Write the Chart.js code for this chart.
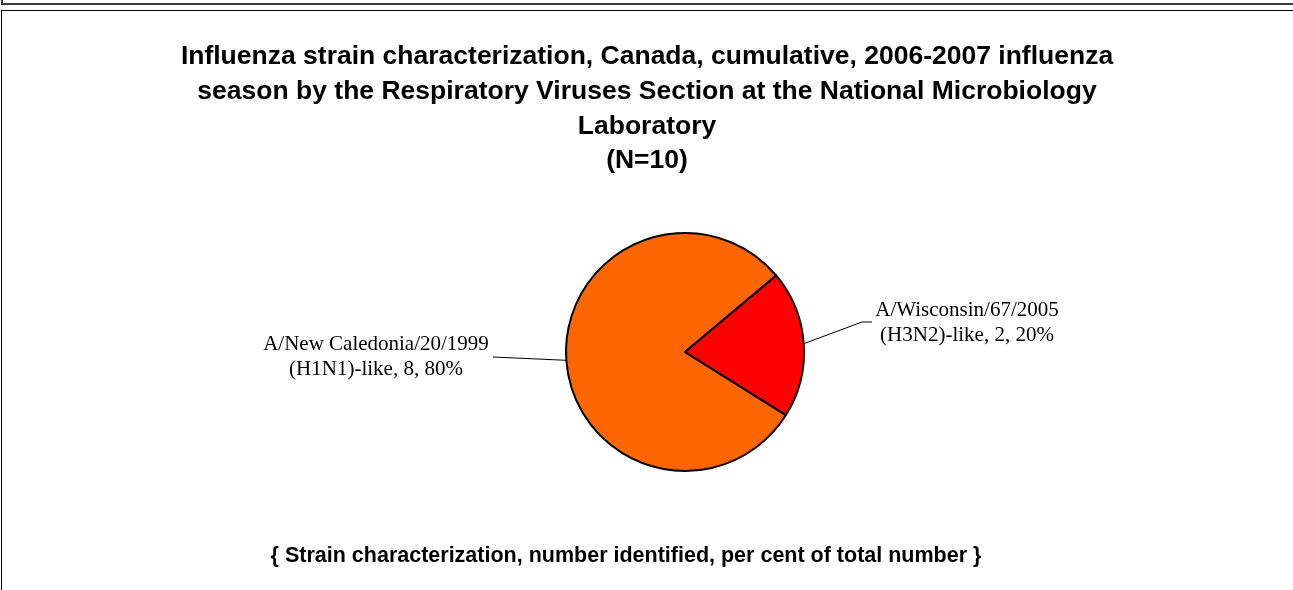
<!DOCTYPE html>
<html>
<head>
<meta charset="utf-8">
<title>Influenza strain characterization 2006-2007</title>
<script src="https://cdn.jsdelivr.net/npm/chart.js@4.4.1/dist/chart.umd.min.js"></script>
<style>
  html, body { margin: 0; padding: 0; background: #fff; overflow: hidden; }
  #outer { position: absolute; left: 1px; top: -20px; width: 1400px; height: 21px; border: 2px solid #3a3a3a; }
  #frame { position: absolute; left: 1px; top: 10px; width: 1400px; height: 700px; border: 1px solid #000; }
  #strainChart { position: absolute; left: 2px; top: 11px; }
</style>
</head>
<body>
<div id="outer"></div>
<div id="frame"></div>
<canvas id="strainChart" width="1291" height="579"></canvas>
<script>
// chart data
const titleLines = [
  "Influenza strain characterization, Canada, cumulative, 2006-2007 influenza",
  "season by the Respiratory Viruses Section at the National Microbiology",
  "Laboratory",
  "(N=10)"
];
const footnote = "{ Strain characterization, number identified, per cent of total number }";
const strains = ["A/New Caledonia/20/1999", "A/Wisconsin/67/2005"];
const subtypes = ["(H1N1)-like", "(H3N2)-like"];
const counts = [8, 2];

const sliceColors = ["#FF6600", "#FF0000"];

// where each label sits, relative to the pie centre
const labelSpots = [
  { textDx: -309, textDy: -2, path: [[-192, 5]] },
  { textDx: 282, textDy: -36, path: [[177, -30], [187, -30]] }
];

const pieLabels = {
  id: "pieLabels",
  afterDatasetsDraw(chart) {
    const ctx = chart.ctx;
    const meta = chart.getDatasetMeta(0);
    const total = counts.reduce((a, b) => a + b, 0);
    ctx.save();
    meta.data.forEach((arc, i) => {
      const { x, y, startAngle, endAngle, outerRadius } =
        arc.getProps(["x", "y", "startAngle", "endAngle", "outerRadius"], true);
      const mid = (startAngle + endAngle) / 2;
      const spot = labelSpots[i];
      // leader line
      ctx.beginPath();
      ctx.moveTo(x + Math.cos(mid) * outerRadius, y + Math.sin(mid) * outerRadius);
      spot.path.forEach(p => ctx.lineTo(x + p[0], y + p[1]));
      ctx.lineWidth = 1;
      ctx.strokeStyle = "#000";
      ctx.stroke();
      // text
      const pct = Math.round(counts[i] / total * 100);
      ctx.font = "21px 'Liberation Serif', 'Times New Roman', serif";
      ctx.textAlign = "center";
      ctx.textBaseline = "alphabetic";
      ctx.fillStyle = "#000";
      ctx.fillText(strains[i], x + spot.textDx, y + spot.textDy);
      ctx.fillText(subtypes[i] + ", " + counts[i] + ", " + pct + "%", x + spot.textDx, y + spot.textDy + 25);
    });
    ctx.restore();
  }
};

const chartTexts = {
  id: "chartTexts",
  afterDraw(chart) {
    const ctx = chart.ctx;
    ctx.save();
    ctx.fillStyle = "#000";
    ctx.textAlign = "center";
    ctx.textBaseline = "alphabetic";
    ctx.font = "bold 26.5px 'Liberation Sans', Arial, sans-serif";
    titleLines.forEach((line, i) => ctx.fillText(line, 645, 53 + i * 34.8));
    ctx.font = "bold 21.5px 'Liberation Sans', Arial, sans-serif";
    ctx.fillText(footnote, 624, 551);
    ctx.restore();
  }
};

new Chart(document.getElementById("strainChart"), {
  type: "pie",
  data: {
    labels: strains,
    datasets: [{
      data: counts,
      backgroundColor: sliceColors,
      borderColor: "#000",
      borderWidth: 2,
      rotation: 122,
      radius: 119
    }]
  },
  options: {
    responsive: false,
    animation: false,
    devicePixelRatio: 1,
    layout: { padding: { left: 275, right: 200, top: 213, bottom: 110 } },
    plugins: {
      legend: { display: false },
      title: { display: false },
      tooltip: { enabled: false }
    }
  },
  plugins: [pieLabels, chartTexts]
});
</script>
</body>
</html>
